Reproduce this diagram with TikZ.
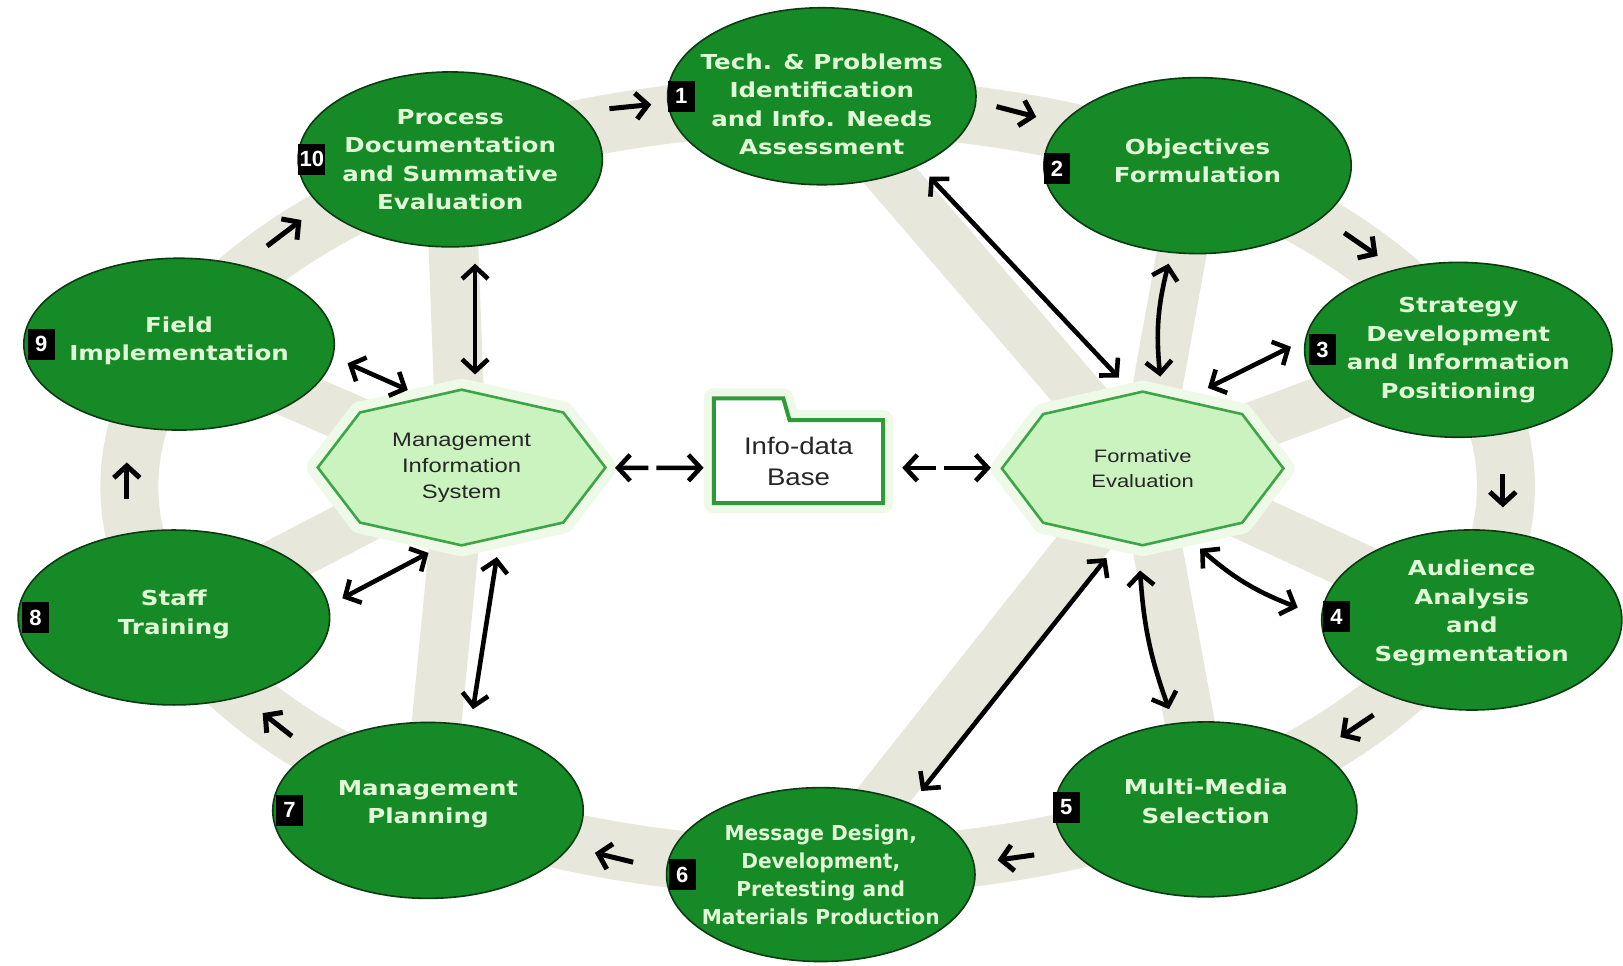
\documentclass[tikz,border=0pt]{standalone}
\usepackage{fontspec}
\usetikzlibrary{shapes.geometric,arrows.meta,calc,backgrounds}
\newfontfamily\ellfam{DejaVu Sans}[FakeStretch=1.19]
\newfontfamily\ellfamn{DejaVu Sans}[FakeStretch=0.98]
\newfontfamily\octfam{Liberation Sans}[FakeStretch=1.22]
\newfontfamily\dbfam{Liberation Sans}[FakeStretch=1.15]
\newfontfamily\tagfam{Liberation Sans}
\definecolor{ellgreen}{HTML}{168A26}
\definecolor{ellborder}{HTML}{0C3A12}
\definecolor{elltext}{HTML}{E1F8D7}
\definecolor{octfill}{HTML}{CBF3C0}
\definecolor{octborder}{HTML}{3DA548}
\definecolor{bandc}{HTML}{E7E7DB}
\definecolor{glowc}{HTML}{EEF9E8}
\definecolor{folderc}{HTML}{2E9B3A}
\definecolor{darktext}{HTML}{262626}
\def\pxu{1.035pt}
\newcommand\upstrut[1]{\rule{0pt}{#1}}
\newcommand\dnstrut[1]{\rule[-#1]{0pt}{#1}}
\tikzset{
 stage/.style={ellipse, draw=ellborder, line width=1.6pt, fill=ellgreen, text=elltext, align=center, inner xsep=-60pt, inner ysep=-40pt, font=\ellfam\bfseries\fontsize{20.6}{28.5}\selectfont},
 numtag/.style={fill=black, text=white, font=\tagfam\bfseries\fontsize{22}{22}\selectfont, minimum width=26*\pxu, minimum height=30*\pxu, inner sep=1pt},
 hub/.style={rectangle, inner sep=0pt, align=center, text=darktext},
 octfillstyle/.style={fill=octfill, draw=octborder, line width=2.6pt, line join=miter},
 octglow/.style={draw=glowc, line width=22pt, line join=round},
 folderstyle/.style={fill=white, draw=folderc, line width=4pt, line join=miter},
 band/.style={draw=bandc},
 flow/.style={black, line width=5pt, -{Straight Barb[length=12pt,width=26pt]}},
 duallink/.style={black, line width=4.6pt, {Straight Barb[length=12pt,width=26pt]}-{Straight Barb[length=12pt,width=26pt]}},
 gaplink/.style={duallink, dash pattern=on 28pt off 8pt on 200pt},
}
\newcommand\drawoct[2]{\path[#2] (#1.north) -- ($(#1.center)!0.707!(#1.north east)$) -- (#1.east) -- ($(#1.center)!0.707!(#1.south east)$) -- (#1.south) -- ($(#1.center)!0.707!(#1.south west)$) -- (#1.west) -- ($(#1.center)!0.707!(#1.north west)$) -- cycle;}
\begin{document}
\begin{tikzpicture}[x=1.035pt, y=-1.035pt]
\useasboundingbox (0,0) rectangle (1568.1,932.37);
% stages
\node[stage, minimum width=298*\pxu, minimum height=171*\pxu] (e1) at (794,93) {\upstrut{32pt}Tech. \& Problems\\Identification\\and Info. Needs\\Assessment};
\node[stage, minimum width=297*\pxu, minimum height=170*\pxu] (e2) at (1157,160) {Objectives\\Formulation\dnstrut{10pt}};
\node[stage, minimum width=297*\pxu, minimum height=169*\pxu] (e3) at (1409,338) {Strategy\\Development\\and Information\\Positioning};
\node[stage, minimum width=290*\pxu, minimum height=174*\pxu] (e4) at (1422,599) {Audience\\Analysis\\and\\Segmentation\dnstrut{19pt}};
\node[stage, minimum width=292*\pxu, minimum height=169*\pxu] (e5) at (1165,782) {Multi-Media\\Selection\dnstrut{16pt}};
\node[stage, minimum width=298*\pxu, minimum height=168*\pxu, font=\ellfamn\bfseries\fontsize{20.6}{28}\selectfont] (e6) at (793,845) {Message Design,\\Development,\\Pretesting and\\Materials Production};
\node[stage, minimum width=300*\pxu, minimum height=170*\pxu] (e7) at (413.5,783) {Management\\Planning\dnstrut{17pt}};
\node[stage, minimum width=301*\pxu, minimum height=169*\pxu] (e8) at (168,596.6) {Staff\\Training\dnstrut{11pt}};
\node[stage, minimum width=300*\pxu, minimum height=166*\pxu] (e9) at (173,332.5) {Field\\Implementation\dnstrut{11pt}};
\node[stage, minimum width=294*\pxu, minimum height=169*\pxu] (e10) at (435,154) {Process\\Documentation\\and Summative\\Evaluation};
% hubs
\node[hub, minimum width=277.5*\pxu, minimum height=150*\pxu, font=\octfam\fontsize{19.5}{26}\selectfont] (mis) at (446,451.7) {Management\\Information\\System};
\node[hub, minimum width=271.6*\pxu, minimum height=148*\pxu, font=\octfam\fontsize{18}{25.5}\selectfont] (fe) at (1104,452.6) {Formative\\Evaluation};
\node[hub, minimum width=163*\pxu, minimum height=80*\pxu, font=\dbfam\fontsize{24}{31}\selectfont] (db) at (771.5,446) {Info-data\\Base};
% number tags
\node[numtag] (t1) at ($(e1.west)+(14,0)$) {1};
\node[numtag] (t2) at ($(e2.west)+(13.5,3)$) {2};
\node[numtag] (t3) at ($(e3.west)+(18,0)$) {3};
\node[numtag] (t4) at ($(e4.west)+(15,-3)$) {4};
\node[numtag] (t5) at ($(e5.west)+(12,-2)$) {5};
\node[numtag] (t6) at ($(e6.west)+(16,0)$) {6};
\node[numtag] (t7) at ($(e7.west)+(17,0)$) {7};
\node[numtag] (t8) at ($(e8.west)+(17.5,0)$) {8};
\node[numtag] (t9) at ($(e9.west)+(17.5,0)$) {9};
\node[numtag] (t10) at ($(e10.west)+(14,0)$) {10};
% background
\begin{scope}[on background layer]
\fill[white] (0,0) rectangle (1568.1,932.37);
\draw[band, line width=56*\pxu] (790,470) ellipse [x radius=665, y radius=368];
\foreach \t in {e10,e9,e8,e7} \draw[band, line width=48*\pxu] (mis.center) -- (\t.center);
\foreach \t in {e1,e2,e3,e4,e5,e6} \draw[band, line width=48*\pxu] (fe.center) -- (\t.center);
\drawoct{mis}{octglow}
\drawoct{fe}{octglow}
\draw[glowc, line width=20pt, line join=round] (db.south west) -- ($(db.north west)+(0,-21)$) -- ($(db.north west)+(67,-21)$) -- ($(db.north west)+(73,0)$) -- (db.north east) -- (db.south east) -- cycle;
\drawoct{mis}{octfillstyle}
\drawoct{fe}{octfillstyle}
\draw[folderstyle] (db.south west) -- ($(db.north west)+(0,-21)$) -- ($(db.north west)+(67,-21)$) -- ($(db.north west)+(73,0)$) -- (db.north east) -- (db.south east) -- cycle;
\end{scope}
% cycle arrows
\draw[flow] ($(e10.east)+(6,-49)$) -- ($(e1.west)+(-15,8)$);
\draw[flow] ($(e1.east)+(19,10)$) -- ($(e2.west)+(-6.5,-47)$);
\draw[flow] ($(e2.east)+(-7.5,65)$) -- ($(e3.north)+(-78,-5.5)$);
\draw[flow] ($(e3.south)+(43,34.5)$) -- ($(e4.north)+(30,-21)$);
\draw[flow] ($(e4.south)+(-95,4)$) -- ($(e5.north)+(130,15.5)$);
\draw[flow] ($(e5.west)+(-19,44)$) -- ($(e6.east)+(21,-14)$);
\draw[flow] ($(e6.west)+(-31.5,-12)$) -- ($(e7.east)+(10.5,41)$);
\draw[flow] ($(e7.north)+(-131.5,14)$) -- ($(e8.east)+(-65.5,92.4)$);
\draw[flow] ($(e8.north)+(-45.5,-29.1)$) -- ($(e9.south)+(-50.5,30.5)$);
\draw[flow] ($(e9.north)+(85,-11)$) -- ($(e10.west)+(4,58.6)$);
% hub links
\draw[duallink] ($(e10.south)+(24,15.5)$) -- ($(mis.north)+(13,-14.7)$);
\draw[duallink] ($(e9.east)+(12,18.5)$) -- ($(mis.north)+(-52,0.3)$);
\draw[duallink] ($(e8.east)+(11.5,-18.6)$) -- ($(mis.south)+(-32,7.3)$);
\draw[duallink] ($(mis.south)+(34,11.3)$) -- ($(e7.north)+(43.5,-12)$);
\draw[duallink] ($(e1.south)+(104,-8.5)$) -- ($(fe.north)+(-23,-13.6)$);
\draw[duallink] ($(e2.south)+(-28,9)$) to[bend right=10] ($(fe.north)+(17,-14.6)$);
\draw[duallink] ($(e3.west)+(-12.5,-3)$) -- ($(fe.north)+(63,-3.6)$);
\draw[duallink] ($(fe.south)+(55.5,3.4)$) to[bend right=10] ($(e4.west)+(-22.4,-12)$);
\draw[duallink] ($(fe.south)+(-2.5,24.4)$) to[bend right=8] ($(e5.north)+(-35.5,-11.5)$);
\draw[duallink] ($(fe.south)+(-35,12.4)$) -- ($(e6.north)+(97,4)$);
\draw[gaplink] ($(mis.east)+(9.25,0.3)$) -- ($(db.west)+(-10,6)$);
\draw[gaplink] ($(db.east)+(18.5,6)$) -- ($(fe.west)+(-10.7,-0.6)$);
\end{tikzpicture}
\end{document}
